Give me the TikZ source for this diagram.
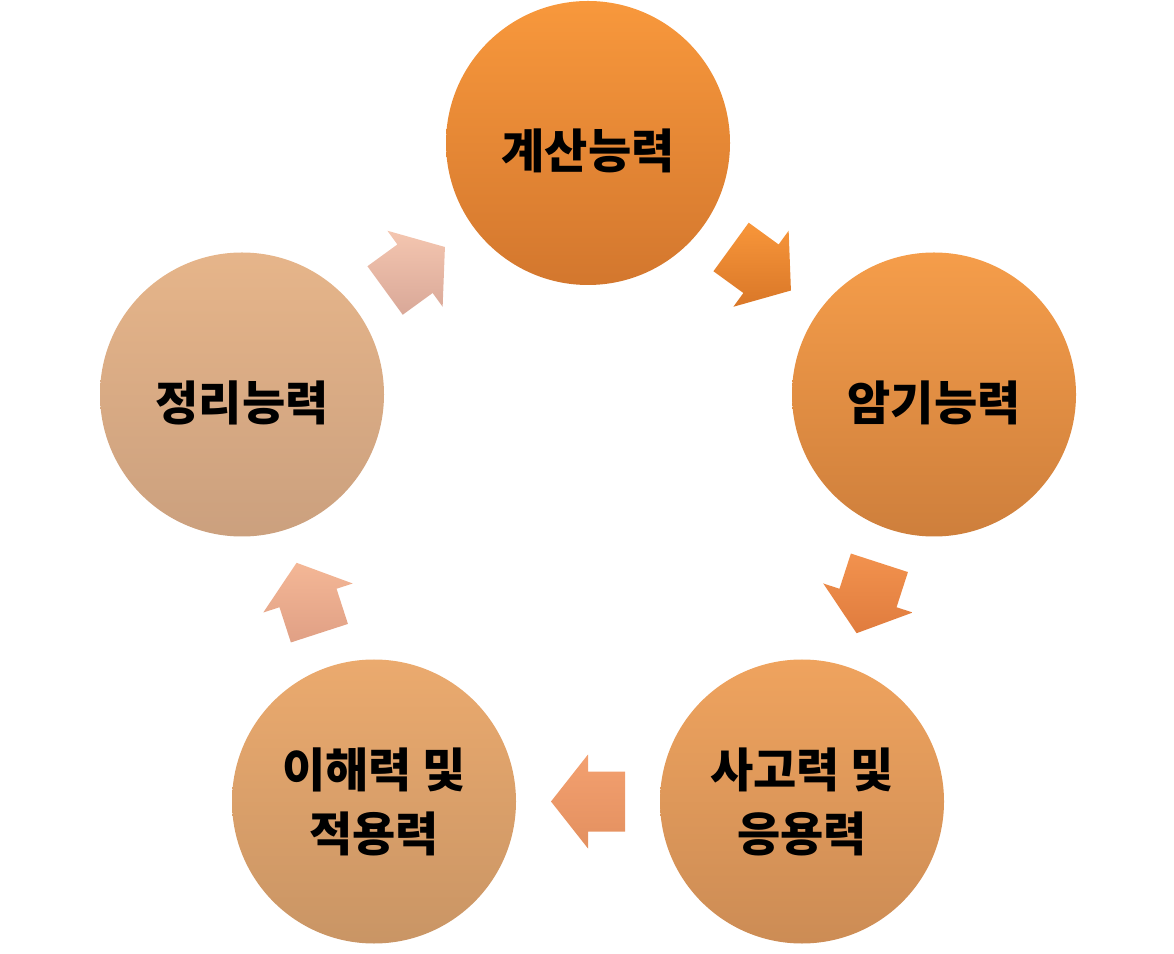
\documentclass[tikz,border=0pt]{standalone}
\usepackage{fontspec}
\newfontfamily\kr{Noto Sans CJK KR}
\usetikzlibrary{calc}
\definecolor{cA1}{HTML}{F8983C}\definecolor{cA2}{HTML}{D3772E}
\definecolor{cB1}{HTML}{F59D4A}\definecolor{cB2}{HTML}{CE7F3C}
\definecolor{cC1}{HTML}{EFA35E}\definecolor{cC2}{HTML}{CC8C55}
\definecolor{cD1}{HTML}{EBAA6E}\definecolor{cD2}{HTML}{C99565}
\definecolor{cE1}{HTML}{E6B58A}\definecolor{cE2}{HTML}{CBA07E}
\definecolor{aA1}{HTML}{F8963A}\definecolor{aA2}{HTML}{D97728}
\definecolor{aB1}{HTML}{F2924E}\definecolor{aB2}{HTML}{E07C3E}
\definecolor{aC1}{HTML}{F3A070}\definecolor{aC2}{HTML}{E3905F}
\definecolor{aD1}{HTML}{F4B796}\definecolor{aD2}{HTML}{E0A085}
\definecolor{aE1}{HTML}{F4C6B0}\definecolor{aE2}{HTML}{D9A898}
\newcommand\cycarrow[4]{%
  \path[top color=#3,bottom color=#4] let \p1=(#1), \p2=(#2),
    \n1={atan2(\y2-\y1,\x2-\x1)}, \p3=($(#1)!0.5!(#2)$) in
    ($(\p3)+(\n1:-37)+(\n1+90:30)$) -- ($(\p3)+(\n1+90:30)$) --
    ($(\p3)+(\n1+90:47)$) -- ($(\p3)+(\n1:37)$) --
    ($(\p3)+(\n1-90:47)$) -- ($(\p3)+(\n1-90:30)$) --
    ($(\p3)+(\n1:-37)+(\n1-90:30)$) -- cycle;}
\newcommand\lowtext[1]{\raisebox{-8pt}[\height][\depth]{#1}}
\tikzset{
  ball/.style={circle, minimum size=284pt, inner sep=0pt, align=center,
    font=\kr\bfseries\fontsize{47}{64}\selectfont, text=black},
}
\begin{document}
\begin{tikzpicture}[x=1pt,y=1pt]
\useasboundingbox (0,0) rectangle (1174,953);
\node[ball, top color=cA1, bottom color=cA2] (n1) at (588,810) {\lowtext{계산능력}};
\node[ball, top color=cB1, bottom color=cB2] (n2) at (934,558.5) {\lowtext{암기능력}};
\node[ball, top color=cC1, bottom color=cC2] (n3) at (802,151.5) {사고력 및\\응용력};
\node[ball, top color=cD1, bottom color=cD2] (n4) at (374,151.5) {이해력 및\\적용력};
\node[ball, top color=cE1, bottom color=cE2] (n5) at (242,558.5) {\lowtext{정리능력}};
\cycarrow{n1}{n2}{aA1}{aA2}
\cycarrow{n2}{n3}{aB1}{aB2}
\cycarrow{n3}{n4}{aC1}{aC2}
\cycarrow{n4}{n5}{aD1}{aD2}
\cycarrow{n5}{n1}{aE1}{aE2}
\end{tikzpicture}
\end{document}
